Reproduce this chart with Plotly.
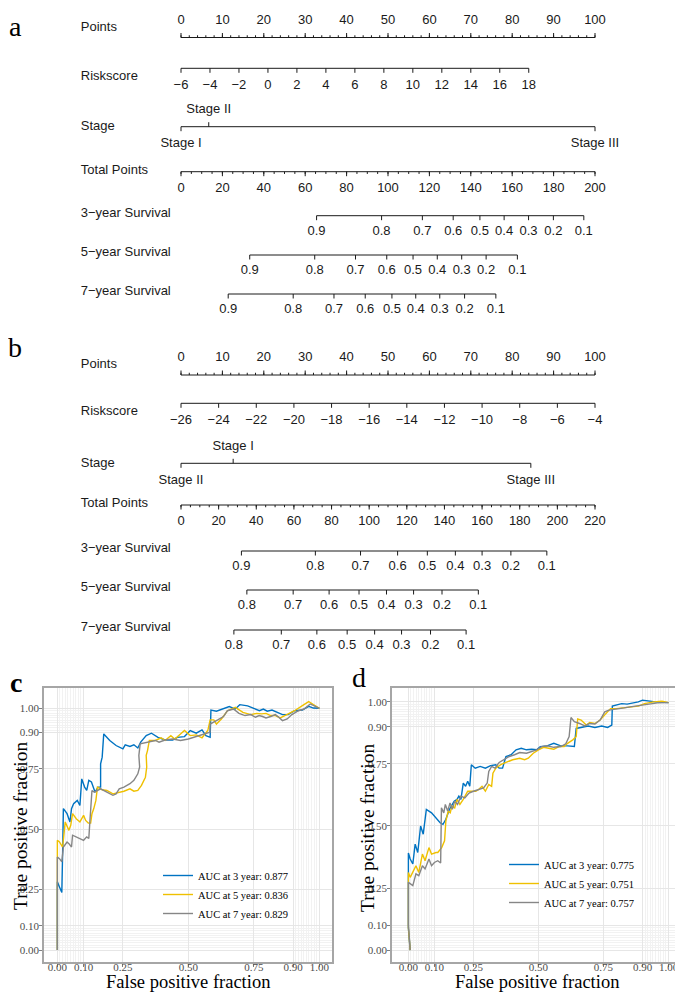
import numpy as np
import plotly.graph_objects as go

# %% Nomogram a (training set)
points_ticks = np.arange(0, 101, 10)
points_minor = np.arange(0, 101, 2)

risk_a_ticks = np.arange(-6, 19, 2)
risk_a_ends = [-6, 18]
risk_a_ends_pts = [0, 84]

stage_a_names = ["Stage I", "Stage II", "Stage III"]
stage_a_pts = [0, 6.7, 100]

total_a_max = 200
total_a_ticks = np.arange(0, 201, 20)
total_a_minor = np.arange(0, 201, 5)

surv_a_labels = ["0.9", "0.8", "0.7", "0.6", "0.5", "0.4", "0.3", "0.2", "0.1"]
surv3_a_total = [65.5, 96.9, 116.6, 131.5, 144.4, 156.1, 167.9, 179.9, 194.6]
surv5_a_total = [33.2, 64.6, 84.3, 99.4, 112.1, 123.8, 135.6, 147.4, 162.5]
surv7_a_total = [22.8, 54.2, 73.9, 89.0, 101.9, 113.4, 125.0, 137.0, 152.1]

# %% Nomogram b (validation set)
risk_b_ticks = np.arange(-26, -3, 2)
risk_b_ends = [-26, -4]
risk_b_ends_pts = [0, 100]

stage_b_names = ["Stage II", "Stage I", "Stage III"]
stage_b_pts = [0, 12.6, 84.5]

total_b_max = 220
total_b_ticks = np.arange(0, 221, 20)
total_b_minor = np.arange(0, 221, 5)

surv3_b_labels = ["0.9", "0.8", "0.7", "0.6", "0.5", "0.4", "0.3", "0.2", "0.1"]
surv3_b_total = [32.1, 71.4, 95.4, 115.1, 130.9, 145.8, 160.0, 175.3, 194.4]
surv57_b_labels = ["0.8", "0.7", "0.6", "0.5", "0.4", "0.3", "0.2", "0.1"]
surv5_b_total = [35.0, 59.6, 78.7, 94.6, 109.2, 123.6, 138.7, 158.0]
surv7_b_total = [28.1, 53.3, 72.2, 88.3, 102.9, 117.2, 132.6, 151.5]

# %% ROC curves, panel c
c3_fpr = [0, 0, 0.008, 0.017, 0.020, 0.023, 0.037, 0.048, 0.054, 0.062, 0.076, 0.086, 0.093, 0.104,
          0.112, 0.120, 0.130, 0.137, 0.144, 0.155, 0.165, 0.165, 0.171, 0.177, 0.200, 0.224, 0.250,
          0.259, 0.277, 0.292, 0.307, 0.318, 0.339, 0.359, 0.384, 0.411, 0.440, 0.458, 0.485, 0.507,
          0.530, 0.552, 0.567, 0.583, 0.586, 0.607, 0.631, 0.656, 0.679, 0.696, 0.726, 0.754, 0.771,
          0.786, 0.801, 0.819, 0.837, 0.859, 0.881, 0.905, 0.935, 0.959, 0.977, 1.0]
c3_tpr = [0, 0.282, 0.261, 0.238, 0.399, 0.585, 0.564, 0.530, 0.585, 0.605, 0.619, 0.598, 0.708, 0.674,
          0.660, 0.702, 0.695, 0.674, 0.653, 0.674, 0.674, 0.770, 0.798, 0.894, 0.867, 0.846, 0.832,
          0.849, 0.842, 0.849, 0.836, 0.860, 0.887, 0.897, 0.880, 0.869, 0.869, 0.880, 0.883, 0.908,
          0.897, 0.911, 0.887, 0.880, 0.993, 0.988, 0.997, 1.007, 0.997, 1.015, 1.010, 0.997, 0.990,
          0.997, 0.988, 0.993, 0.983, 0.974, 0.974, 0.990, 0.993, 1.008, 1.001, 1.0]

c5_fpr = [0, 0, 0, 0.008, 0.020, 0.030, 0.044, 0.051, 0.058, 0.072, 0.086, 0.100, 0.108, 0.118, 0.127,
          0.132, 0.139, 0.147, 0.153, 0.171, 0.189, 0.212, 0.236, 0.254, 0.277, 0.292, 0.307, 0.321,
          0.336, 0.341, 0.339, 0.344, 0.351, 0.374, 0.396, 0.411, 0.433, 0.448, 0.470, 0.485, 0.507,
          0.530, 0.552, 0.574, 0.583, 0.597, 0.607, 0.626, 0.649, 0.679, 0.708, 0.738, 0.761, 0.779,
          0.796, 0.814, 0.832, 0.850, 0.868, 0.886, 0.905, 0.935, 0.959, 0.977, 1.0]
c5_tpr = [0, 0.385, 0.454, 0.447, 0.426, 0.530, 0.495, 0.516, 0.564, 0.543, 0.530, 0.557, 0.536, 0.525,
          0.525, 0.564, 0.585, 0.619, 0.674, 0.663, 0.660, 0.646, 0.653, 0.657, 0.667, 0.657, 0.660,
          0.681, 0.715, 0.757, 0.805, 0.825, 0.867, 0.867, 0.878, 0.867, 0.887, 0.873, 0.894, 0.908,
          0.887, 0.890, 0.878, 0.908, 0.952, 0.952, 0.935, 0.956, 0.990, 1.004, 0.983, 0.974, 0.979,
          0.977, 0.979, 0.970, 0.970, 0.960, 0.970, 0.979, 0.990, 1.011, 1.028, 1.015, 1.0]

c7_fpr = [0, 0, 0.008, 0.017, 0.023, 0.037, 0.044, 0.054, 0.058, 0.072, 0.086, 0.100, 0.112, 0.120,
          0.124, 0.127, 0.132, 0.141, 0.153, 0.165, 0.189, 0.212, 0.224, 0.236, 0.254, 0.277, 0.292,
          0.307, 0.314, 0.311, 0.316, 0.329, 0.351, 0.374, 0.388, 0.411, 0.440, 0.470, 0.500, 0.522,
          0.552, 0.582, 0.583, 0.597, 0.612, 0.634, 0.649, 0.672, 0.693, 0.716, 0.738, 0.756, 0.770,
          0.783, 0.796, 0.814, 0.832, 0.845, 0.859, 0.877, 0.895, 0.917, 0.941, 0.965, 0.983, 1.0]
c7_tpr = [0, 0.385, 0.378, 0.365, 0.426, 0.447, 0.440, 0.426, 0.475, 0.468, 0.461, 0.454, 0.468, 0.461,
          0.530, 0.591, 0.660, 0.653, 0.660, 0.667, 0.653, 0.640, 0.646, 0.667, 0.674, 0.688, 0.702,
          0.729, 0.757, 0.805, 0.853, 0.856, 0.860, 0.867, 0.860, 0.869, 0.873, 0.867, 0.873, 0.880,
          0.890, 0.901, 0.935, 0.942, 0.952, 0.966, 0.990, 0.997, 0.979, 0.970, 0.974, 0.963, 0.970,
          0.966, 0.960, 0.966, 0.974, 0.963, 0.949, 0.956, 0.974, 0.988, 0.997, 1.018, 1.007, 1.0]

# %% ROC curves, panel d
d3_fpr = [0.007, 0, 0, 0.007, 0.017, 0.026, 0.036, 0.047, 0.057, 0.069, 0.089, 0.106, 0.122, 0.133,
          0.144, 0.158, 0.176, 0.187, 0.194, 0.202, 0.211, 0.220, 0.228, 0.236, 0.242, 0.257, 0.276,
          0.296, 0.316, 0.336, 0.349, 0.362, 0.375, 0.395, 0.414, 0.434, 0.454, 0.474, 0.493, 0.507,
          0.533, 0.559, 0.586, 0.612, 0.638, 0.645, 0.664, 0.691, 0.717, 0.743, 0.766, 0.782, 0.784,
          0.798, 0.820, 0.841, 0.862, 0.884, 0.900, 0.925, 0.950, 1.0]
d3_tpr = [0, 0.089, 0.391, 0.367, 0.347, 0.427, 0.393, 0.500, 0.467, 0.567, 0.553, 0.533, 0.513, 0.507,
          0.527, 0.567, 0.600, 0.607, 0.620, 0.607, 0.673, 0.660, 0.680, 0.660, 0.747, 0.733, 0.740,
          0.733, 0.743, 0.747, 0.733, 0.733, 0.780, 0.787, 0.807, 0.813, 0.807, 0.809, 0.807, 0.820,
          0.823, 0.833, 0.823, 0.823, 0.820, 0.893, 0.897, 0.903, 0.897, 0.903, 0.897, 0.907, 0.983,
          0.987, 0.993, 0.991, 0.996, 1.000, 1.007, 1.003, 1.0, 0.997]

d5_fpr = [0.007, 0, 0, 0.007, 0.029, 0.040, 0.054, 0.064, 0.079, 0.089, 0.106, 0.113, 0.128, 0.139,
          0.144, 0.153, 0.161, 0.167, 0.178, 0.187, 0.198, 0.211, 0.228, 0.242, 0.259, 0.270, 0.283,
          0.296, 0.309, 0.320, 0.325, 0.336, 0.355, 0.375, 0.401, 0.428, 0.447, 0.461, 0.480, 0.500,
          0.520, 0.539, 0.559, 0.579, 0.599, 0.612, 0.632, 0.645, 0.651, 0.664, 0.684, 0.697, 0.717,
          0.737, 0.755, 0.766, 0.777, 0.798, 0.820, 0.841, 0.862, 0.884, 0.908, 0.942, 0.975, 1.0]
d5_tpr = [0, 0.089, 0.313, 0.293, 0.340, 0.313, 0.387, 0.360, 0.413, 0.387, 0.393, 0.393, 0.413, 0.440,
          0.520, 0.560, 0.553, 0.580, 0.573, 0.607, 0.587, 0.607, 0.640, 0.640, 0.640, 0.647, 0.660,
          0.640, 0.667, 0.660, 0.713, 0.733, 0.747, 0.756, 0.767, 0.773, 0.767, 0.773, 0.793, 0.807,
          0.817, 0.813, 0.809, 0.820, 0.820, 0.833, 0.847, 0.860, 0.931, 0.927, 0.907, 0.917, 0.913,
          0.927, 0.947, 0.960, 0.973, 0.973, 0.976, 0.980, 0.980, 0.983, 0.993, 1.0, 1.003, 0.997]

d7_fpr = [0.007, 0, 0, 0.007, 0.017, 0.029, 0.040, 0.054, 0.064, 0.079, 0.089, 0.100, 0.113, 0.124,
          0.127, 0.136, 0.142, 0.151, 0.160, 0.169, 0.178, 0.189, 0.202, 0.217, 0.233, 0.250, 0.270,
          0.289, 0.303, 0.309, 0.320, 0.333, 0.349, 0.368, 0.388, 0.408, 0.428, 0.454, 0.474, 0.493,
          0.513, 0.533, 0.559, 0.586, 0.605, 0.618, 0.625, 0.638, 0.658, 0.678, 0.697, 0.717, 0.737,
          0.755, 0.771, 0.788, 0.809, 0.830, 0.852, 0.873, 0.895, 0.925, 0.958, 1.0]
d7_tpr = [0, 0.100, 0.273, 0.267, 0.260, 0.307, 0.300, 0.340, 0.327, 0.367, 0.340, 0.353, 0.360, 0.351,
          0.573, 0.553, 0.587, 0.560, 0.593, 0.567, 0.600, 0.587, 0.620, 0.613, 0.633, 0.640, 0.647,
          0.653, 0.673, 0.720, 0.740, 0.733, 0.756, 0.767, 0.780, 0.787, 0.796, 0.793, 0.800, 0.807,
          0.820, 0.823, 0.817, 0.820, 0.831, 0.860, 0.937, 0.920, 0.913, 0.903, 0.913, 0.911, 0.927,
          0.960, 0.967, 0.969, 0.973, 0.976, 0.980, 0.983, 0.987, 0.991, 0.996, 0.997]

roc_breaks = [0, 0.1, 0.25, 0.5, 0.75, 0.9, 1]
roc_minor = [round(v, 2) for v in list(np.arange(0, 0.101, 0.01)) + list(np.arange(0.9, 1.001, 0.01))]

auc_c = ["0.877", "0.836", "0.829"]
auc_d = ["0.775", "0.751", "0.757"]
years = [3, 5, 7]
colors = ["#0073C2", "#EFC000", "#868686"]

# %% Figure
# the page puts the plot 8px in from the window corner, so lay out in window pixels
OFF = 8
W, H = 683 - OFF, 992 - OFF
SANS = "Liberation Sans"
SERIF = "Liberation Serif"
INK = "#1a1a1a"
LABEL_X = -24.2  # row labels sit left of the points scale
fig = go.Figure()


def px(x):
    return (x - OFF) / W


def py(y):
    return 1 - (y - OFF) / H


def add_lines(xs, ys):
    fig.add_trace(go.Scatter(x=xs, y=ys, mode="lines", line=dict(color=INK, width=1),
                             hoverinfo="skip", showlegend=False, cliponaxis=False))


def add_text(xs, ys, texts, pos="middle center", size=13):
    fig.add_trace(go.Scatter(x=xs, y=ys, mode="text", text=texts, textposition=pos,
                             textfont=dict(family=SANS, size=size, color=INK),
                             hoverinfo="skip", showlegend=False, cliponaxis=False))


def scale_row(major, labels, y, minor=None, up=False, tick=4.5, gap=17):
    s = -1 if up else 1
    xs, ys = [min(major), max(major), None], [y, y, None]
    for v in major:
        xs += [v, v, None]
        ys += [y, y + s * tick, None]
    for v in (minor if minor is not None else []):
        xs += [v, v, None]
        ys += [y, y + s * tick * 0.5, None]
    add_lines(xs, ys)
    add_text(list(major), [y + s * gap] * len(major), labels)


def stage_row(pts, names, y, tick=4.5, gap=17):
    order = np.argsort(pts)
    xs, ys = [min(pts), max(pts), None], [y, y, None]
    tx, ty = [], []
    for i, k in enumerate(order):
        end = i in (0, len(pts) - 1)
        s = 1 if end else -1
        xs += [pts[k], pts[k], None]
        ys += [y, y + s * tick, None]
        tx.append(pts[k])
        ty.append(y + s * gap)
    add_lines(xs, ys)
    add_text(tx, ty, [names[k] for k in order])


def minus(v):
    return str(v).replace("-", "\u2212")


def nomogram(top, rows, risk_ticks, risk_ends, risk_ends_pts, stage_pts, stage_names,
             total_max, total_ticks, total_minor, survs):
    r = {k: top + v for k, v in rows.items()}
    scale_row(points_ticks, [str(v) for v in points_ticks], r["points"], points_minor, up=True)
    add_text([LABEL_X], [r["points"] - 10], ["Points"], "middle right")

    risk_pts = np.interp(risk_ticks, risk_ends, risk_ends_pts)
    scale_row(risk_pts, [minus(v) for v in risk_ticks], r["risk"])
    add_text([LABEL_X], [r["risk"] + 8], ["Riskscore"], "middle right")

    stage_row(stage_pts, stage_names, r["stage"])
    add_text([LABEL_X], [r["stage"]], ["Stage"], "middle right")

    k = 100 / total_max
    scale_row(total_ticks * k, [str(v) for v in total_ticks], r["total"], total_minor * k)
    add_text([LABEL_X], [r["total"] - 1], ["Total Points"], "middle right")

    for key, name, (labels, vals) in zip(["s3", "s5", "s7"],
                                         ["3\u2212year Survival", "5\u2212year Survival",
                                          "7\u2212year Survival"], survs):
        scale_row(np.array(vals) * k, labels, r[key], gap=16)
        add_text([LABEL_X], [r[key] - 2], [name], "middle right")


rows_a = dict(points=37.5, risk=68.3, stage=126.7, total=171.7, s3=215.7, s5=255, s7=294)
rows_b = dict(points=45, risk=73.3, stage=133.3, total=175, s3=221, s5=260, s7=300)

nomogram(0, rows_a, risk_a_ticks, risk_a_ends, risk_a_ends_pts, stage_a_pts, stage_a_names,
         total_a_max, total_a_ticks, total_a_minor,
         [(surv_a_labels, surv3_a_total), (surv_a_labels, surv5_a_total),
          (surv_a_labels, surv7_a_total)])
nomogram(330, rows_b, risk_b_ticks, risk_b_ends, risk_b_ends_pts, stage_b_pts, stage_b_names,
         total_b_max, total_b_ticks, total_b_minor,
         [(surv3_b_labels, surv3_b_total), (surv57_b_labels, surv5_b_total),
          (surv57_b_labels, surv7_b_total)])

# ROC traces
roc_sets = [("x2", "y2", "legend", auc_c, [(c3_fpr, c3_tpr), (c5_fpr, c5_tpr), (c7_fpr, c7_tpr)]),
            ("x3", "y3", "legend2", auc_d, [(d3_fpr, d3_tpr), (d5_fpr, d5_tpr), (d7_fpr, d7_tpr)])]
for xa, ya, leg, aucs, curves in roc_sets:
    for (fpr, tpr), yr, auc, col in zip(curves, years, aucs, colors):
        fig.add_trace(go.Scatter(x=fpr, y=tpr, mode="lines", xaxis=xa, yaxis=ya, legend=leg,
                                 name=f"AUC at {yr} year: {auc}",
                                 line=dict(color=col, width=1.4)))

# points scale: 0 -> 181 px, 100 -> 595 px; range widened so row labels are drawn
px_per_pt = (595 - 181) / 100
nomo_range = [-27, 110]
nomo_x = dict(domain=[px(181 + nomo_range[0] * px_per_pt), px(181 + nomo_range[1] * px_per_pt)],
              range=nomo_range, visible=False, fixedrange=True, automargin=False)
nomo_y = dict(domain=[py(660), py(OFF)], range=[660, OFF], visible=False, fixedrange=True,
              automargin=False)


def roc_axis(domain, rng, anchor, standoff):
    return dict(domain=domain, range=rng, anchor=anchor, tickvals=roc_breaks,
                ticktext=[f"{v:.2f}" for v in roc_breaks],
                tickfont=dict(family=SERIF, size=11, color="#4d4d4d"),
                ticks="outside", ticklen=3, tickcolor="#7f7f7f", ticklabelstandoff=standoff,
                showgrid=True, gridcolor="#e6e6e6", gridwidth=1,
                minor=dict(tickvals=roc_minor, showgrid=True, gridcolor="#f2f2f2", gridwidth=0.6,
                           ticks=""),
                showline=True, mirror=True, linecolor="#a6a6a6", linewidth=1.5,
                zeroline=False, fixedrange=True, automargin=False)


roc_ydom = [py(962), py(688)]
legend_style = dict(font=dict(family=SERIF, size=10.5, color="black"), bgcolor="rgba(0,0,0,0)",
                    itemwidth=30, xanchor="left", yanchor="top", tracegroupgap=0)

fig.update_layout(
    width=W, height=H, margin=dict(l=0, r=0, t=0, b=0),
    paper_bgcolor="white", plot_bgcolor="white", showlegend=True,
    xaxis=nomo_x, yaxis=nomo_y,
    xaxis2=roc_axis([px(44), px(332)], [-0.051, 1.048], "y2", -9),
    yaxis2=roc_axis(roc_ydom, [-0.0496, 1.084], "x2", -2),
    xaxis3=roc_axis([px(392), px(681)], [-0.063, 1.048], "y3", -9),
    yaxis3=roc_axis(roc_ydom, [-0.048, 1.056], "x3", -2),
    legend=dict(x=px(158), y=py(861), **legend_style),
    legend2=dict(x=px(504), y=py(850), **legend_style),
)

# axis titles and panel letters
for txt, x, y, ang, size in [("True positive fraction", 20, 826, -90, 19.5),
                             ("False positive fraction", 188, 982, 0, 18.5),
                             ("True positive fraction", 367, 827, -90, 19.5),
                             ("False positive fraction", 537, 982, 0, 18.5)]:
    fig.add_annotation(text=txt, x=px(x), y=py(y), xref="paper", yref="paper",
                       showarrow=False, textangle=ang, xanchor="center", yanchor="middle",
                       font=dict(family=SERIF, size=size, color="black"))

for txt, x, y, bold in [("a", 15, 26, False), ("b", 15, 347, False),
                        ("c", 16, 682, True), ("d", 359, 677, False)]:
    fig.add_annotation(text=f"<b>{txt}</b>" if bold else txt, x=px(x), y=py(y),
                       xref="paper", yref="paper", showarrow=False, xanchor="center",
                       yanchor="middle", font=dict(family=SERIF, size=28, color="black"))

fig.write_html("out.html")
